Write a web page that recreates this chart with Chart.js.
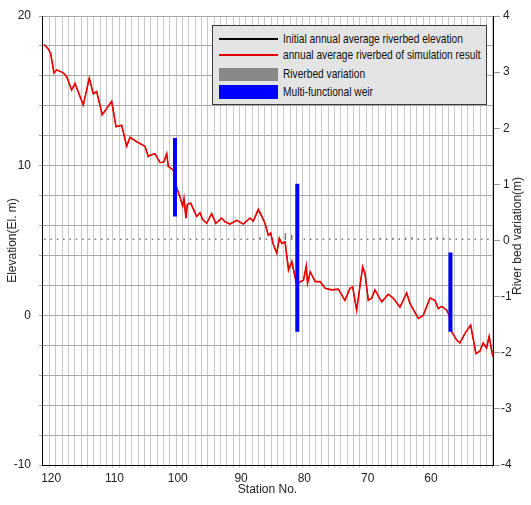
<!DOCTYPE html>
<html>
<head>
<meta charset="utf-8">
<script src="https://cdn.jsdelivr.net/npm/chart.js@4"></script>
<style>
  html,body{margin:0;padding:0;background:#fff;}
  #wrap{position:relative;width:531px;height:505px;overflow:hidden;}
  #c{position:absolute;left:0;top:0;}
  #legend{position:absolute;left:212px;top:25px;width:273px;height:78px;background:#e4e4e4;border:1px solid #3a3a3a;
    font-family:'Liberation Sans Narrow','Arial Narrow','Liberation Sans',Arial,sans-serif;font-size:13px;color:#111;}
  .sw{position:absolute;left:6px;width:59px;}
  .lt{position:absolute;left:70px;height:14px;line-height:14px;white-space:nowrap;transform-origin:0 50%;}
  #rtitle{position:absolute;left:517px;top:236px;transform:translate(-50%,-50%) rotate(-90deg);white-space:nowrap;
    font-family:'Liberation Sans',Arial,sans-serif;font-size:12px;color:#222;}
</style>
</head>
<body>
<div id="wrap">
  <canvas id="c" width="531" height="505"></canvas>
  <div id="legend"></div>
  <div id="rtitle">River bed variation(m)</div>
</div>
<script>
// ---- data ----
const stations = [121.14,120.46,120.08,119.56,119.13,118.09,117.55,116.76,116.24,114.93,113.98,113.35,112.81,111.93,110.44,109.76,108.86,108.07,107.55,106.49,105.18,104.66,104.38,103.6,102.81,102.2,101.75,101.5,100.71,100.17,99.65,99.23,99.02,98.71,98.5,97.96,97.01,96.49,96.07,95.43,94.64,94.01,93.07,92.54,91.75,90.69,89.65,88.59,88.07,87.28,86.75,86.22,85.7,85.32,84.96,84.36,83.95,83.57,83.05,82.51,81.98,81.19,80.66,80.14,79.7,79.5,79.07,78.29,77.5,76.71,75.69,74.64,73.59,72.8,72.37,71.74,70.79,70.43,69.9,69.37,68.85,67.79,66.75,65.96,64.9,63.84,63.32,62.0,61.22,60.16,59.37,58.85,58.31,57.52,57.11,56.73,55.94,55.42,54.63,53.73,52.9,52.27,51.75,51.22,50.81,50.43,50.22];
const simElev = [18.1,17.8,17.5,16.2,16.4,16.2,15.95,15.05,15.5,14.05,15.85,14.8,14.95,13.4,14.3,12.6,12.7,11.3,11.9,11.6,11.3,10.6,10.7,10.8,10.2,10.25,10.8,9.95,9.7,8.5,7.9,7.3,7.8,6.5,7.4,7.5,6.6,6.85,6.4,6.15,6.8,6.15,6.5,6.25,6.1,6.35,6.1,6.5,6.3,7.1,6.65,6.15,5.35,5.5,4.8,4.15,5.15,4.8,4.9,3.0,3.6,2.0,2.25,2.35,3.3,2.15,2.9,2.25,2.25,1.8,1.7,1.75,1.0,1.8,1.9,0.35,3.25,2.8,1.0,1.15,1.7,0.9,1.4,1.15,0.55,1.5,0.8,-0.2,0.0,1.15,1.0,0.45,0.6,0.35,0.0,-1.1,-1.65,-1.85,-1.2,-0.65,-2.55,-2.4,-1.85,-2.2,-1.4,-2.3,-2.75];
const initElev = [18.1,17.8,17.5,16.2,16.4,16.2,15.95,15.05,15.5,14.05,15.85,14.8,14.95,13.4,14.3,12.6,12.7,11.3,11.9,11.6,11.3,10.6,10.7,10.8,10.2,10.25,10.8,9.95,9.7,8.5,7.9,7.3,7.8,6.5,7.4,7.5,6.6,6.85,6.4,6.15,6.8,6.15,6.5,6.25,6.1,6.35,6.1,6.5,6.3,7.0,6.6,6.15,5.35,5.5,4.8,4.15,5.15,4.8,4.9,3.2,3.5,2.0,2.25,2.35,3.3,2.15,2.9,2.25,2.25,1.8,1.7,1.75,1.0,1.8,1.9,0.35,3.25,2.8,1.0,1.15,1.7,0.9,1.4,1.15,0.55,1.5,0.8,-0.2,0.0,1.15,1.0,0.45,0.6,0.35,0.0,-1.1,-1.65,-1.85,-1.2,-0.65,-2.55,-2.4,-1.85,-2.2,-1.4,-2.3,-2.75];
const varStations = [121,120,119,118,117,116,115,114,113,112,111,110,109,108,107,106,105,104,103,102,101,100,99,98,97,96,95,94,93,92,91,90,89,88,87,86,85,84,83,82,81,80,79,78,77,76,75,74,73,72,71,70,69,68,67,66,65,64,63,62,61,60,59,58,57,56,55,54,53,52,51];
const varValues = [0.01,0.01,0.01,0.01,0.01,0.01,0.01,0.01,0.01,0.01,0.01,0.01,0.01,0.01,0.01,0.01,0.01,0.01,0.01,0.01,0.01,0.01,0.02,0.015,0.01,0.015,0.01,0.015,0.01,0.015,0.01,0.015,0.01,0.02,0.06,0.02,0.01,0.02,0.13,0.1,0.02,0.01,0.01,0.01,0.01,0.01,0.01,0.01,0.03,0.02,0.02,0.03,0.02,0.05,0.04,0.05,0.04,0.05,0.06,0.04,0.03,0.05,0.06,0.05,0.04,0.01,0.01,0.01,0.01,0.01,0.01];
const weirStations = [100.44, 81.12, 56.92];
const weirLow = [6.6, -1.1, -1.1];
const weirHigh = [11.85, 8.8, 4.2];
const xTickLabels = [120,110,100,90,80,70,60];
const leftTickLabels = [-10,0,10,20];
const rightTicks = [-4,-3,-2,-1,0,1,2,3,4];

// ---- chart ----
const tickFont = {family:"'Liberation Sans', Arial, sans-serif", size:12};
const clear = 'rgba(0,0,0,0)';
const weirData = weirStations.flatMap((s,i)=>[{x:s,y:weirLow[i]},{x:s,y:weirHigh[i]},{x:s,y:null}]);

const datasets = [
  {label:'Multi-functional weir', type:'line', data:weirData, borderColor:'#0000ff', backgroundColor:'#0000ff',
   borderWidth:4, borderCapStyle:'butt', pointRadius:0, spanGaps:false, order:0, yAxisID:'y'},
  {label:'annual average riverbed of simulation result', type:'line',
   data:stations.map((s,i)=>({x:s,y:simElev[i]})), borderColor:'#f00000', borderWidth:1.6,
   pointRadius:0, tension:0, order:1, yAxisID:'y'},
  {label:'Initial annual average riverbed elevation', type:'line',
   data:stations.map((s,i)=>({x:s,y:initElev[i]})), borderColor:'#000000', borderWidth:0.8,
   pointRadius:0, tension:0, order:2, yAxisID:'y'},
  {label:'Riverbed variation', type:'bar', data:varStations.map((s,i)=>({x:s,y:varValues[i]})),
   backgroundColor:'#777777', grouped:false, maxBarThickness:1.5, minBarLength:2, order:3, yAxisID:'y2'}
];

new Chart(document.getElementById('c'), {
  type:'line',
  data:{datasets},
  options:{
    responsive:false, animation:false, events:[],
    layout:{padding:{top:16,left:0,right:0,bottom:0}},
    plugins:{legend:{display:false}, tooltip:{enabled:false}},
    scales:{
      x:{type:'linear', reverse:true, min:50.2, max:121.45, offset:false,
        afterBuildTicks:s=>{const t=[]; for(let v=50.5; v<=121.45; v+=0.5) t.push({value:v}); s.ticks=t;},
        afterFit:s=>{s.height=40;},
        ticks:{autoSkip:false, maxRotation:0, minRotation:0, padding:3, font:tickFont, color:'#222',
          callback:v=>xTickLabels.includes(v)?String(v):''},
        grid:{color:c=>(c.tick && c.tick.value%1!==0)?'#c8c8c8':clear, tickLength:3,
          tickColor:c=>(c.tick && c.tick.value%1!==0)?'#c8c8c8':clear, lineWidth:1},
        border:{color:'#000', width:1},
        title:{display:true, text:'Station No.', font:tickFont, color:'#222', padding:{top:0,bottom:8}}
      },
      y:{type:'linear', position:'left', min:-10, max:20,
        afterBuildTicks:s=>{const t=[]; for(let v=-10; v<=20; v+=2) t.push({value:v}); s.ticks=t;},
        afterFit:s=>{s.width=42;},
        ticks:{autoSkip:false, padding:8, font:tickFont, color:'#222',
          callback:v=>leftTickLabels.includes(v)?String(v):''},
        grid:{color:c=>(c.tick && c.tick.value===-10)?clear:'#a6a6a6', tickLength:3, tickColor:'#a6a6a6'},
        border:{color:'#000', width:1},
        title:{display:true, text:'Elevation(El. m)', font:tickFont, color:'#222', padding:{top:5,bottom:0}}
      },
      y2:{type:'linear', position:'right', min:-4, max:4,
        afterBuildTicks:s=>{s.ticks=rightTicks.map(v=>({value:v}));},
        afterFit:s=>{s.width=38;},
        ticks:{autoSkip:false, padding:1, crossAlign:'center', font:tickFont, color:'#222'},
        grid:{drawOnChartArea:false, tickLength:7, tickColor:'#999'},
        border:{color:'#000', width:1}
      }
    }
  }
});

// ---- HTML legend (inside plot, as in the reference) ----
const legendItems = [
  {text:datasets[2].label, kind:'line', color:'#000000', cy:13.3},
  {text:datasets[1].label, kind:'line', color:'#e00000', cy:29.3},
  {text:datasets[3].label, kind:'box', color:'#888888', cy:48.3},
  {text:datasets[0].label, kind:'box', color:'#0000ff', cy:65.8}
];
const leg = document.getElementById('legend');
const mc = document.createElement('canvas').getContext('2d');
mc.font = "13px 'Liberation Sans Narrow','Arial Narrow','Liberation Sans',Arial,sans-serif";
const scale = 180 / mc.measureText(legendItems[0].text).width;
legendItems.forEach(it=>{
  const sw = document.createElement('div');
  sw.className='sw';
  if(it.kind==='line'){ sw.style.top=(it.cy-1)+'px'; sw.style.height='2px'; }
  else { sw.style.top=(it.cy-6.8)+'px'; sw.style.height='13.6px'; }
  sw.style.background=it.color;
  leg.appendChild(sw);
  const t = document.createElement('div');
  t.className='lt';
  t.style.top=(it.cy-7)+'px';
  t.style.transform='scaleX('+scale.toFixed(3)+')';
  t.textContent=it.text;
  leg.appendChild(t);
});
</script>
</body>
</html>
